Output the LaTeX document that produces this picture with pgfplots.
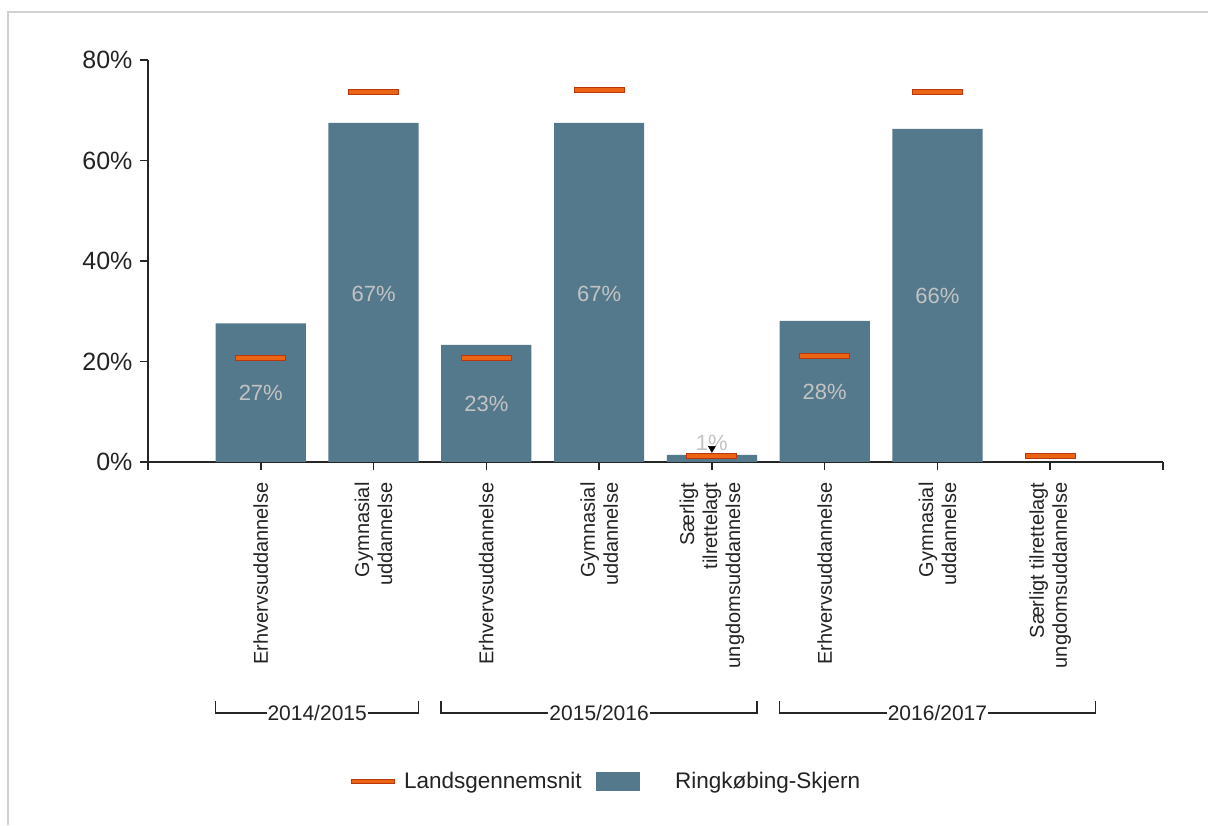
\documentclass[border=0pt]{standalone}
\usepackage{fontspec}
\setmainfont{Liberation Sans}
\usepackage{pgfplots}
\pgfplotsset{compat=1.18}
\definecolor{barcol}{RGB}{84,121,140}
\definecolor{orangefill}{RGB}{235,100,20}
\definecolor{orangedark}{RGB}{185,55,10}
\definecolor{labelgray}{RGB}{195,195,195}
\definecolor{txt}{RGB}{35,35,35}
\pgfdeclareplotmark{hbar}{\pgfpathrectangle{\pgfpoint{-25pt}{-2.5pt}}{\pgfpoint{50pt}{5pt}}\pgfusepathqfillstroke}
\begin{document}
\begin{tikzpicture}[x=1pt,y=1pt]
\useasboundingbox (0,0) rectangle (1208,825);
\draw[color=black!18, line width=2pt] (8,0) -- (8,813) -- (1208,813);
\begin{axis}[
  at={(148pt,363pt)}, anchor=south west,
  scale only axis, width=1015pt, height=402pt,
  xmin=0, xmax=9, ymin=0, ymax=80,
  axis x line*=bottom, axis y line*=left,
  axis line style={-, line width=1.5pt, color=black!85},
  tick style={line width=1.5pt, color=black!85},
  tick align=outside, major tick length=8pt,
  ytick={0,20,40,60,80},
  yticklabels={0\%,20\%,40\%,60\%,80\%},
  yticklabel style={font=\fontsize{25}{29}\selectfont, text=txt},
  yticklabel shift=4pt,
  xtick={0,...,9},
  xticklabels={{},Erhvervsuddannelse,Gymnasial\\uddannelse,Erhvervsuddannelse,Gymnasial\\uddannelse,Særligt\\tilrettelagt\\ungdomsuddannelse,Erhvervsuddannelse,Gymnasial\\uddannelse,Særligt tilrettelagt\\ungdomsuddannelse,{}},
  xticklabel style={rotate=90, anchor=east, align=right, font=\fontsize{20}{23}\selectfont, text=txt},
  xticklabel shift=9pt,
  clip=false,
  legend style={at={(0.452,-0.794)}, anchor=center, draw=none, legend columns=2,
    font=\fontsize{22.5}{26}\selectfont, text=txt,
    /tikz/every odd column/.append style={column sep=7pt},
    /tikz/every even column/.append style={column sep=12pt}},
  legend cell align=left,
]
\addlegendimage{legend image code/.code={\draw[draw=orangedark, fill=orangefill, line width=0.8pt] (0pt,-2pt) rectangle (43pt,2pt);}}
\addlegendentry{Landsgennemsnit}
\addlegendimage{legend image code/.code={\fill[barcol] (0pt,-9pt) rectangle (43pt,9pt);}}
\addlegendentry{\hspace{27pt}Ringkøbing-Skjern}

\addplot[ybar, bar width=0.8, bar shift=0pt, fill=barcol, draw=none, forget plot]
  coordinates {(1,27.6) (2,67.5) (3,23.3) (4,67.5) (5,1.4) (6,28.1) (7,66.3)};

\addplot[draw=none, mark=none, forget plot, nodes near coords, point meta=explicit symbolic,
  nodes near coords style={anchor=center, text=labelgray, font=\fontsize{22}{25}\selectfont}]
  coordinates {(1,13.7) [27\%] (2,33.4) [67\%] (3,11.5) [23\%] (4,33.4) [67\%] (5,3.8) [1\%] (6,13.9) [28\%] (7,33.0) [66\%]};

\addplot[only marks, mark=triangle*, mark size=4pt, mark options={rotate=180, fill=black, draw=black}, forget plot]
  coordinates {(5,2.7)};

\addplot[only marks, mark=hbar, mark options={fill=orangefill, draw=orangedark, line width=1pt}, forget plot]
  coordinates {(1,20.7) (2,73.6) (3,20.7) (4,74.0) (5,1.2) (6,21.1) (7,73.6) (8,1.2)};

\draw[line width=1.5pt, color=black!85] (axis cs:0.6,-47.6) -- (axis cs:0.6,-50) -- (axis cs:2.4,-50) -- (axis cs:2.4,-47.6);
\draw[line width=1.5pt, color=black!85] (axis cs:2.6,-47.6) -- (axis cs:2.6,-50) -- (axis cs:5.4,-50) -- (axis cs:5.4,-47.6);
\draw[line width=1.5pt, color=black!85] (axis cs:5.6,-47.6) -- (axis cs:5.6,-50) -- (axis cs:8.4,-50) -- (axis cs:8.4,-47.6);
\node[fill=white, inner sep=1pt, text=txt, font=\fontsize{21}{24}\selectfont] at (axis cs:1.5,-50) {2014/2015};
\node[fill=white, inner sep=1pt, text=txt, font=\fontsize{21}{24}\selectfont] at (axis cs:4.0,-50) {2015/2016};
\node[fill=white, inner sep=1pt, text=txt, font=\fontsize{21}{24}\selectfont] at (axis cs:7.0,-50) {2016/2017};
\end{axis}
\end{tikzpicture}
\end{document}
